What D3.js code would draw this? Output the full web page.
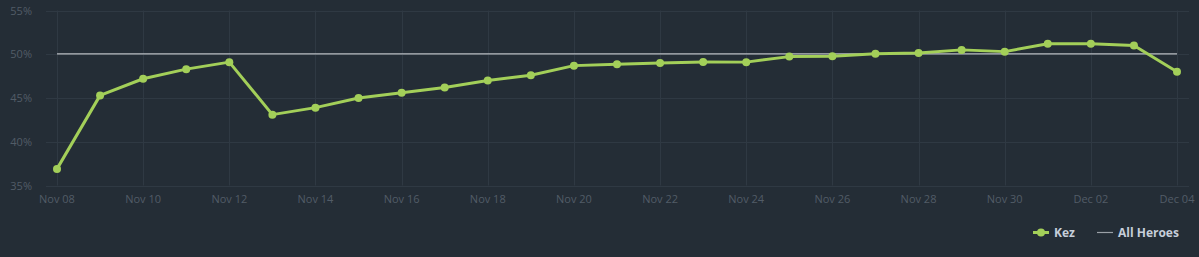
<!DOCTYPE html>
<html>
<head>
<meta charset="utf-8">
<style>
  html, body { margin: 0; padding: 0; background: #242d36; }
  svg { display: block; font-family: 'Open Sans', sans-serif; }
  .grid line { stroke: #2f3943; stroke-width: 1px; }
  .tick-label { fill: #525c67; font-size: 11px; }
  .legend text { fill: #c6ceda; font-size: 12px; font-weight: 700; }
</style>
</head>
<body>
<div id="chart"></div>
<script src="https://d3js.org/d3.v7.min.js"></script>
<script>
const dates = ["2024-11-08","2024-11-09","2024-11-10","2024-11-11","2024-11-12","2024-11-13","2024-11-14",
  "2024-11-15","2024-11-16","2024-11-17","2024-11-18","2024-11-19","2024-11-20","2024-11-21","2024-11-22",
  "2024-11-23","2024-11-24","2024-11-25","2024-11-26","2024-11-27","2024-11-28","2024-11-29","2024-11-30",
  "2024-12-01","2024-12-02","2024-12-03","2024-12-04"];
const kezWinRate = [36.9, 45.3, 47.2, 48.3, 49.1, 43.1, 43.9, 45.0, 45.6, 46.2, 47.0, 47.6, 48.7, 48.85,
  49.0, 49.12, 49.1, 49.73, 49.77, 50.05, 50.15, 50.5, 50.3, 51.2, 51.2, 51.0, 48.0];
const allHeroes = [50.05, 50.05, 50.05, 50.05, 50.05, 50.05, 50.05, 50.05, 50.05, 50.05, 50.05, 50.05, 50.05, 50.05,
  50.05, 50.05, 50.05, 50.05, 50.05, 50.05, 50.05, 50.05, 50.05, 50.05, 50.05, 50.05, 50.05];
const yTicks = [35, 40, 45, 50, 55];
const seriesNames = ["Kez", "All Heroes"];

const width = 1199, height = 257;
const parse = d3.timeParse("%Y-%m-%d");
const days = dates.map(parse);

const x = d3.scaleTime()
    .domain(d3.extent(days))
    .range([57, 1177]);
const y = d3.scaleLinear()
    .domain([35, 55])
    .range([185.5, 10.5]);

const svg = d3.select('#chart').append('svg')
    .attr('width', width)
    .attr('height', height);

const plotLeft = 46, plotRight = 1189;

// horizontal grid
const grid = svg.append('g').attr('class', 'grid');
grid.selectAll('line.h')
    .data(yTicks)
    .enter().append('line')
    .attr('class', 'h')
    .attr('x1', plotLeft).attr('x2', plotRight)
    .attr('y1', d => Math.round(y(d)) + 0.5)
    .attr('y2', d => Math.round(y(d)) + 0.5);

const xTicks = days.filter((d, i) => i % 2 === 0);
grid.selectAll('line.v')
    .data(xTicks)
    .enter().append('line')
    .attr('class', 'v')
    .attr('x1', d => Math.round(x(d)) + 0.5)
    .attr('x2', d => Math.round(x(d)) + 0.5)
    .attr('y1', y(55)).attr('y2', y(35));

// axis labels
svg.append('g').selectAll('text')
    .data(yTicks)
    .enter().append('text')
    .attr('class', 'tick-label')
    .attr('x', 32)
    .attr('y', d => y(d) + 4)
    .attr('text-anchor', 'end')
    .text(d => d + '%');

const fmt = d3.timeFormat("%b %d");
svg.append('g').selectAll('text')
    .data(xTicks)
    .enter().append('text')
    .attr('class', 'tick-label')
    .attr('x', d => x(d))
    .attr('y', 203)
    .attr('text-anchor', 'middle')
    .text(d => fmt(d));

// series
const line = d3.line()
    .x((d, i) => x(days[i]))
    .y(d => y(d));

svg.append('path')
    .datum(allHeroes)
    .attr('fill', 'none')
    .attr('stroke', '#b9bdc2')
    .attr('stroke-width', 1.2)
    .attr('d', line);

svg.append('path')
    .datum(kezWinRate)
    .attr('fill', 'none')
    .attr('stroke', '#a3cf59')
    .attr('stroke-width', 3)
    .attr('stroke-linejoin', 'round')
    .attr('d', line);

svg.append('g').selectAll('circle')
    .data(kezWinRate)
    .enter().append('circle')
    .attr('cx', (d, i) => x(days[i]))
    .attr('cy', d => y(d))
    .attr('r', 4)
    .attr('fill', '#a3cf59');

// legend
const legend = svg.append('g').attr('class', 'legend');
legend.append('line')
    .attr('x1', 1033).attr('x2', 1049).attr('y1', 232.5).attr('y2', 232.5)
    .attr('stroke', '#a3cf59').attr('stroke-width', 3);
legend.append('circle')
    .attr('cx', 1041).attr('cy', 232.5).attr('r', 4).attr('fill', '#a3cf59');
legend.append('text').attr('x', 1054).attr('y', 237).text(seriesNames[0]);
legend.append('line')
    .attr('x1', 1097).attr('x2', 1113).attr('y1', 232.5).attr('y2', 232.5)
    .attr('stroke', '#9aa0a7').attr('stroke-width', 1.2);
legend.append('text').attr('x', 1118).attr('y', 237).text(seriesNames[1]);
</script>
</body>
</html>
